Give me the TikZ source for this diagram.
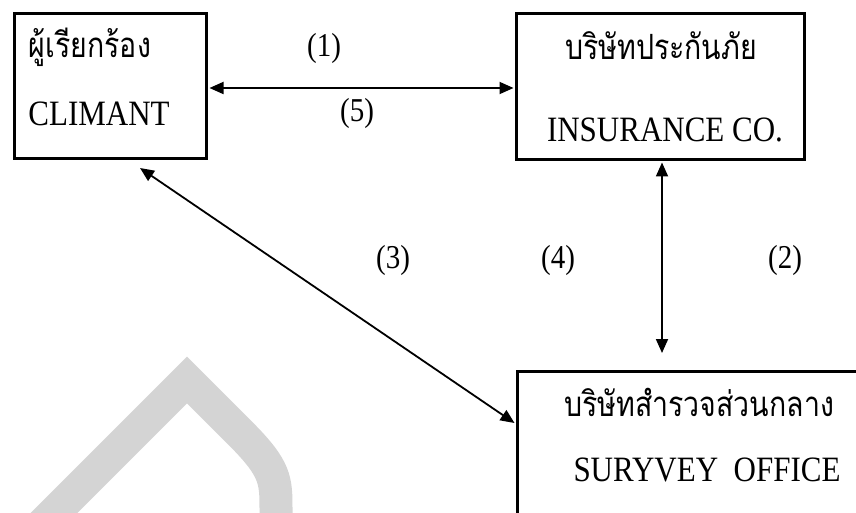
\documentclass[tikz,border=0pt]{standalone}
\usepackage{fontspec}
\usepackage{graphicx}
\setmainfont{Liberation Serif}
\newfontfamily\thaifont[Script=Thai]{Loma}
\usetikzlibrary{arrows.meta,calc}
\newcommand{\vstretch}[1]{\scalebox{1}[1.15]{#1}}
\newcommand{\tstretch}[1]{\scalebox{1}[1.22]{#1}}
\tikzset{
  box/.style={draw, line width=3pt, rectangle, inner sep=0pt, anchor=north west},
  lat/.style={inner sep=0pt, anchor=base, font=\fontsize{31}{36}\selectfont},
  thai/.style={inner sep=0pt, anchor=base, text depth=0pt, font=\thaifont\fontsize{28.5}{32}\selectfont},
  lbl/.style={inner sep=0pt, anchor=base, font=\fontsize{29}{34}\selectfont},
  conn/.style={line width=1.8pt, {Triangle[length=14pt,width=12pt]}-{Triangle[length=14pt,width=12pt]}},
  wmark/.style={draw=black!17, line width=33pt, line join=miter}
}
\begin{document}
\begin{tikzpicture}[x=1pt,y=1pt]
\useasboundingbox (0,0) rectangle (856,-513);
\clip (0,0) rectangle (856,-513);
\fill[white] (0,0) rectangle (856,-513);
% watermark
\path[wmark] (34,-533) -- (187,-380) -- (240,-433) .. controls (276,-469) and (276,-480) .. (276,-510) -- (276,-545);
% boxes
\node[box, minimum width=192pt, minimum height=145pt] (claim) at (13,-12) {};
\node[box, minimum width=288pt, minimum height=146pt] (ins) at (515,-12) {};
\node[box, minimum width=400pt, minimum height=200pt] (surv) at (516,-370) {};
% texts
\node[thai] (t1) at (90,-58) {\tstretch{ผู้เรียกร้อง}};
\node[lat] (e1) at (99,-126) {\vstretch{CLIMANT}};
\node[thai] (t2) at (661,-60) {\tstretch{บริษัทประกันภัย}};
\node[lat] (e2) at (665,-142) {\vstretch{INSURANCE CO.}};
\node[thai] (t3) at (699,-416) {\tstretch{บริษัทสำรวจส่วนกลาง}};
\node[lat] (e3) at (707,-481) {\vstretch{SURYVEY\ \ OFFICE}};
% labels
\node[lbl] (l1) at (324,-57) {\vstretch{(1)}};
\node[lbl] (l5) at (357,-122) {\vstretch{(5)}};
\node[lbl] (l3) at (393,-268) {\vstretch{(3)}};
\node[lbl] (l4) at (558,-268) {\vstretch{(4)}};
\node[lbl] (l2) at (785,-268) {\vstretch{(2)}};
% connectors
\coordinate (a1) at ($(claim.north east)+(1.5,-76)$);
\coordinate (a2) at ($(ins.north west)+(-1.5,-76)$);
\draw[conn] (a1) -- (a2);
\coordinate (v1) at ($(ins.south west)+(147,-1.5)$);
\coordinate (v2) at ($(surv.north west)+(146,17)$);
\draw[conn] (v1) -- (v2);
\coordinate (d1) at ($(claim.south west)+(127,-8)$);
\coordinate (d2) at ($(surv.north west)+(-1.5,-53)$);
\draw[conn] (d1) -- (d2);
\end{tikzpicture}
\end{document}
